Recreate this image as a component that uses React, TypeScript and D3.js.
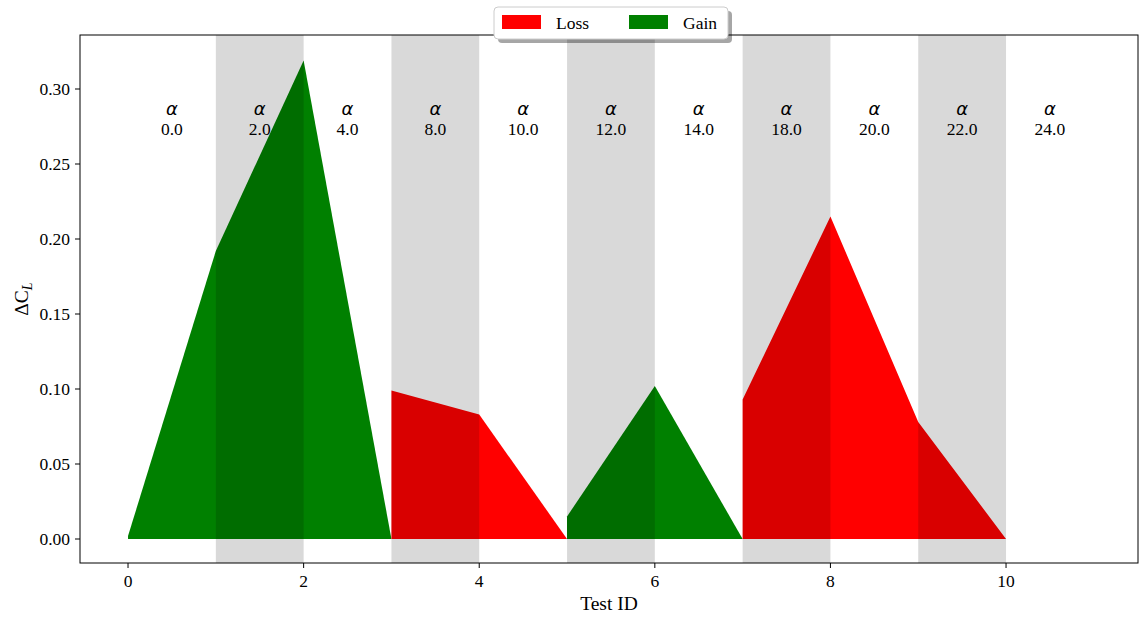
import * as d3 from 'd3';
import React from 'react';

// test data, one entry per test id
const testIds = [0, 1, 2, 3, 4, 5, 6, 7, 8, 9];
const deltaCL = [0.002, 0.192, 0.319, 0.099, 0.083, 0.015, 0.102, 0.093, 0.215, 0.078];
const effect = ['Gain', 'Gain', 'Gain', 'Loss', 'Loss', 'Gain', 'Gain', 'Loss', 'Loss', 'Loss'];

// angle of attack per test slot (slot i spans i..i+1)
const alphaLabels = ['0.0', '2.0', '4.0', '8.0', '10.0', '12.0', '14.0', '18.0', '20.0', '22.0', '24.0'];
const shadedSlots = [1, 3, 5, 7, 9];

const xTicks = [0, 2, 4, 6, 8, 10];
const yTicks = [0, 0.05, 0.1, 0.15, 0.2, 0.25, 0.3];

const colors: Record<string, string> = { Loss: '#ff0000', Gain: '#008000' };

const W = 1139, H = 617;
const margin = { top: 35, right: 1, bottom: 54, left: 80 };
const innerW = W - margin.left - margin.right;
const innerH = H - margin.top - margin.bottom;
const font = '"Liberation Serif", "Times New Roman", serif';

function App() {
  const x = d3.scaleLinear().domain([-0.547, 11.503]).range([0, innerW]);
  const y = d3.scaleLinear().domain([-0.016, 0.336]).range([innerH, 0]);

  // group consecutive tests with the same effect, close each group at next id with 0
  const groups: { kind: string; pts: [number, number][] }[] = [];
  testIds.forEach((id, i) => {
    const last = groups[groups.length - 1];
    if (last && last.kind === effect[i]) last.pts.push([id, deltaCL[i]]);
    else groups.push({ kind: effect[i], pts: [[id, deltaCL[i]]] });
  });
  groups.forEach(g => g.pts.push([g.pts[g.pts.length - 1][0] + 1, 0]));

  const area = d3.area<[number, number]>()
    .x(d => x(d[0]))
    .y0(y(0))
    .y1(d => y(d[1]));

  return (
    <svg width={W} height={H} style={{ position: 'absolute', left: 0, top: 0, background: '#fff' }}
      fontFamily={font}>
      <g transform={`translate(${margin.left},${margin.top})`}>
        {groups.map((g, i) => (
          <path key={i} d={area(g.pts) || ''} fill={colors[g.kind]} />
        ))}
        {shadedSlots.map(s => (
          <rect key={s} x={x(s)} y={0} width={x(s + 1) - x(s)} height={innerH}
            fill="#000" fillOpacity={0.15} />
        ))}
        {alphaLabels.map((a, i) => (
          <g key={i} transform={`translate(${x(i + 0.5)},0)`}>
            <text y={y(0.29) + 11} textAnchor="middle" fontSize={18}
              fontFamily='"DejaVu Sans", sans-serif' fontStyle="italic">α</text>
            <text y={y(0.275) + 8.5} textAnchor="middle" fontSize={17.5}>{a}</text>
          </g>
        ))}
        <rect x={0} y={0} width={innerW} height={innerH} fill="none" stroke="#000" strokeWidth={1} />
        {xTicks.map(t => (
          <g key={t} transform={`translate(${x(t)},${innerH})`}>
            <line y2={5} stroke="#000" />
            <text y={24} textAnchor="middle" fontSize={17.5}>{t}</text>
          </g>
        ))}
        {yTicks.map(t => (
          <g key={t} transform={`translate(0,${y(t)})`}>
            <line x2={-5} stroke="#000" />
            <text x={-10} dy="0.35em" textAnchor="end" fontSize={17.5}>{d3.format('.2f')(t)}</text>
          </g>
        ))}
        <text x={innerW / 2} y={innerH + 47} textAnchor="middle" fontSize={19.5}>Test ID</text>
        <text transform={`translate(-52,${innerH / 2}) rotate(-90)`} textAnchor="middle" fontSize={19.5}>
          ΔC<tspan dy={4} fontSize={14} fontStyle="italic">L</tspan>
        </text>
      </g>
      {/* legend */}
      <g transform="translate(494,7)">
        <rect x={4} y={4} width={234} height={32} rx={4} fill="#000" fillOpacity={0.35} />
        <rect x={0} y={0} width={234} height={32} rx={4} fill="#fff" stroke="#ccc" />
        <rect x={8} y={8} width={39} height={14} fill={colors.Loss} />
        <text x={62} y={22} fontSize={17.5}>Loss</text>
        <rect x={135} y={8} width={39} height={14} fill={colors.Gain} />
        <text x={189} y={22} fontSize={17.5}>Gain</text>
      </g>
    </svg>
  );
}

export default App;
